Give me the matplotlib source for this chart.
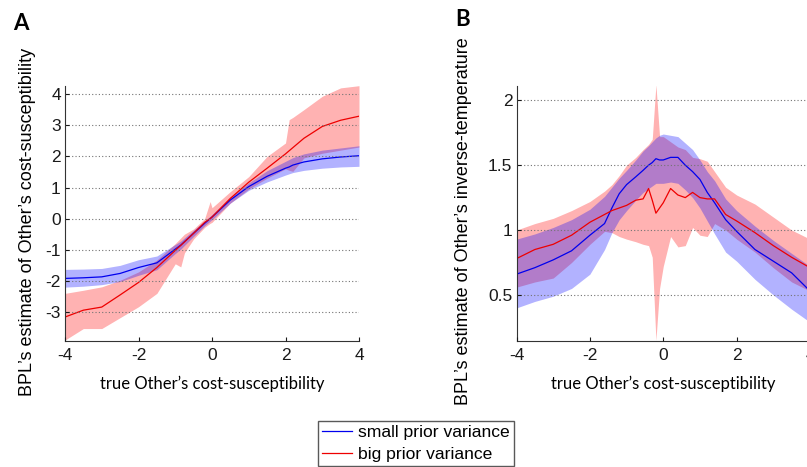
import matplotlib
matplotlib.use("Agg")
import matplotlib.pyplot as plt
import numpy as np

plt.rcParams['font.family'] = ['Liberation Sans', 'DejaVu Sans']

# panel A: estimate of cost-susceptibility
xa = [-4, -3.5, -3, -2.5, -2, -1.5, -1, -0.85, -0.75, -0.5, -0.2, -0.05, 0,
      0.5, 1, 1.5, 2, 2.1, 2.2, 2.5, 3, 3.5, 4]
blue_a = [-1.92, -1.90, -1.87, -1.76, -1.57, -1.42, -0.98, -0.85, -0.74, -0.47,
          -0.15, 0.0, 0.05, 0.6, 1.03, 1.36, 1.62, 1.66, 1.72, 1.82, 1.92,
          1.98, 2.02]
blue_a_hi = [-1.63, -1.62, -1.60, -1.50, -1.32, -1.20, -0.83, -0.72, -0.62,
             -0.37, -0.07, 0.08, 0.13, 0.70, 1.15, 1.54, 1.84, 1.90, 1.96,
             2.08, 2.20, 2.27, 2.34]
blue_a_lo = [-2.20, -2.17, -2.12, -2.02, -1.82, -1.64, -1.12, -0.98, -0.86,
             -0.57, -0.23, -0.08, -0.03, 0.50, 0.91, 1.18, 1.40, 1.44, 1.48,
             1.55, 1.62, 1.66, 1.68]
red_a = [-3.16, -2.94, -2.84, -2.45, -2.05, -1.57, -1.02, -0.86, -0.75, -0.47,
         -0.12, 0.0, 0.05, 0.65, 1.17, 1.62, 2.08, 2.18, 2.28, 2.58, 2.96,
         3.16, 3.29]
red_a_hi = [-2.40, -2.30, -2.19, -1.98, -1.71, -1.33, -0.80, -0.62, -0.50,
            -0.33, 0.0, 0.55, 0.35, 0.87, 1.35, 2.00, 2.43, 3.18, 3.25, 3.50,
            3.93, 4.20, 4.27]
red_a_lo = [-3.90, -3.53, -3.53, -3.18, -2.83, -2.40, -1.45, -1.55, -1.10,
            -0.65, -0.28, -0.15, -0.12, 0.50, 0.95, 1.30, 1.60, 1.55, 1.52,
            1.95, 2.10, 2.20, 2.30]

# panel B: estimate of inverse-temperature
xb = [-4, -3.5, -3, -2.5, -2, -1.6, -1.4, -1.2, -1, -0.75, -0.55, -0.4, -0.3,
      -0.2, -0.1, 0, 0.2, 0.4, 0.6, 0.8, 1, 1.2, 1.4, 1.7, 2, 2.5, 3, 3.5, 4]
blue_b = [0.66, 0.71, 0.77, 0.84, 0.96, 1.05, 1.17, 1.28, 1.35, 1.41, 1.46,
          1.50, 1.52, 1.55, 1.54, 1.54, 1.56, 1.56, 1.50, 1.45, 1.39, 1.29,
          1.21, 1.08, 0.99, 0.85, 0.76, 0.67, 0.53]
blue_b_hi = [0.93, 0.97, 1.02, 1.08, 1.16, 1.26, 1.33, 1.40, 1.46, 1.54, 1.61,
             1.65, 1.68, 1.71, 1.73, 1.74, 1.73, 1.72, 1.67, 1.62, 1.54, 1.45,
             1.38, 1.24, 1.15, 1.03, 0.92, 0.82, 0.72]
blue_b_lo = [0.40, 0.45, 0.49, 0.55, 0.66, 0.85, 0.98, 1.08, 1.15, 1.23, 1.29,
             1.32, 1.34, 1.36, 1.36, 1.36, 1.37, 1.36, 1.31, 1.25, 1.17, 1.07,
             0.97, 0.83, 0.76, 0.62, 0.50, 0.39, 0.29]
red_b = [0.78, 0.85, 0.89, 0.96, 1.06, 1.12, 1.15, 1.17, 1.19, 1.23, 1.24,
         1.32, 1.23, 1.13, 1.17, 1.21, 1.32, 1.27, 1.25, 1.29, 1.25, 1.24,
         1.24, 1.12, 1.07, 0.98, 0.88, 0.79, 0.71]
red_b_hi = [1.00, 1.05, 1.09, 1.15, 1.22, 1.30, 1.35, 1.42, 1.50, 1.56, 1.62,
            1.66, 1.70, 2.12, 1.72, 1.72, 1.68, 1.64, 1.62, 1.56, 1.55, 1.53,
            1.45, 1.33, 1.27, 1.20, 1.10, 1.00, 0.93]
red_b_lo = [0.56, 0.60, 0.63, 0.75, 0.89, 0.99, 0.98, 0.95, 0.93, 0.91, 0.89,
            0.88, 0.79, 0.15, 0.55, 0.72, 0.95, 0.87, 0.88, 1.02, 0.96, 0.95,
            1.05, 1.00, 0.93, 0.83, 0.71, 0.60, 0.53]

xticks = [-4, -2, 0, 2, 4]
labels = ['small prior variance', 'big prior variance']
xlabel = 'true Other\u2019s cost-susceptibility'

fig = plt.figure(figsize=(8.07, 4.67), dpi=100)
axA = fig.add_axes([65 / 807, 126 / 467, 294 / 807, 255 / 467])
axB = fig.add_axes([516.5 / 807, 126 / 467, 293.5 / 807, 255 / 467])


def panel(ax, x, b, b_lo, b_hi, r, r_lo, r_hi, yticks, ylim, ylabel, ylx,
          yly):
    ax.fill_between(x, r_lo, r_hi, color='#ff0000', alpha=0.3, lw=0)
    ax.fill_between(x, b_lo, b_hi, color='#0000ff', alpha=0.3, lw=0)
    lb, = ax.plot(x, b, color='#0000ee', lw=0.9)
    lr, = ax.plot(x, r, color='#ee0000', lw=0.9)
    ax.set_xlim(-4, 4)
    ax.set_ylim(*ylim)
    ax.set_xticks(xticks)
    ax.set_xticklabels([str(t) for t in xticks])
    ax.set_yticks(yticks)
    ax.set_yticklabels(['%g' % t for t in yticks])
    ax.yaxis.grid(True, linestyle=(0, (1, 2)), color='0.45', lw=0.8)
    ax.set_axisbelow(False)
    for s in ['top', 'right']:
        ax.spines[s].set_visible(False)
    ax.spines['left'].set_color('0.2')
    ax.spines['bottom'].set_color('0.2')
    ax.tick_params(direction='in', length=3, labelsize=12.5, colors='0.1')
    ax.tick_params(axis='x', pad=5)
    ax.tick_params(axis='y', pad=3)
    ax.set_xlabel(xlabel, family=['Lato', 'DejaVu Sans'], fontsize=12)
    ax.xaxis.set_label_coords(0.5, -0.135)
    ax.set_ylabel(ylabel, fontsize=13, va='center')
    ax.yaxis.set_label_coords(ylx, yly)
    return lb, lr


lb, lr = panel(axA, xa, blue_a, blue_a_lo, blue_a_hi, red_a, red_a_lo,
               red_a_hi, [-3, -2, -1, 0, 1, 2, 3, 4], (-3.93, 4.26),
               'BPL\u2019s estimate of Other\u2019s cost-susceptibility',
               -0.129, 0.467)
panel(axB, xb, blue_b, blue_b_lo, blue_b_hi, red_b, red_b_lo, red_b_hi,
      [0.5, 1, 1.5, 2], (0.145, 2.11),
      'BPL\u2019s estimate of Other\u2019s inverse-temperature',
      -0.182, 0.471)

fig.text(13 / 807, 1 - 23 / 467, 'A', fontsize=16, fontweight='bold',
         family=['Lato', 'DejaVu Sans'], va='center')
fig.text(455 / 807, 1 - 19 / 467, 'B', fontsize=16, fontweight='bold',
         family=['Lato', 'DejaVu Sans'], va='center')

fig.legend([lb, lr], labels, loc='upper left',
           bbox_to_anchor=(318 / 807, 1 - 421 / 467), fontsize=12.6,
           frameon=True, fancybox=False, edgecolor='0.35', framealpha=1,
           handlelength=1.75, borderpad=0.2, labelspacing=0.4,
           handletextpad=0.35, borderaxespad=0)

fig.savefig('out.png', dpi=100)
